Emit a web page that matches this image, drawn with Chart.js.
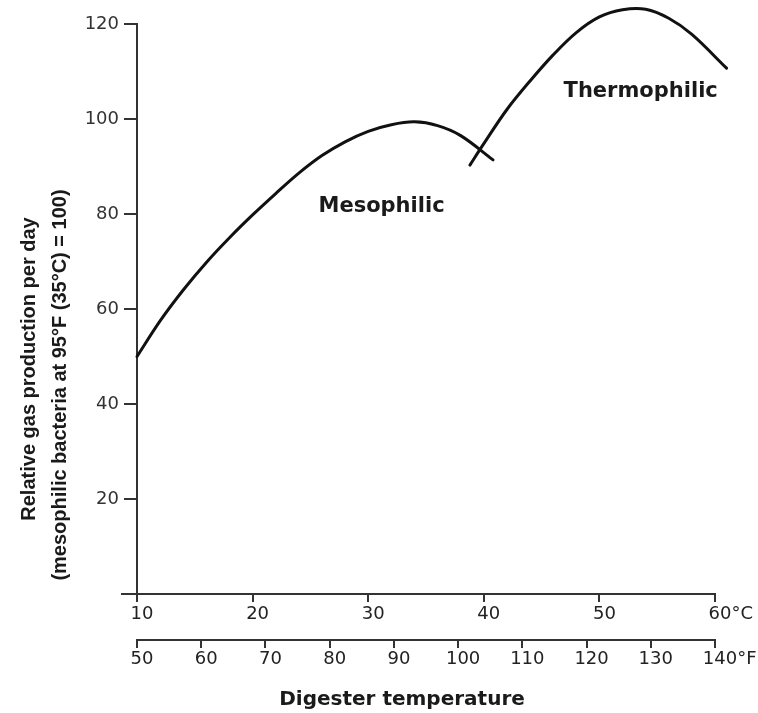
<!DOCTYPE html>
<html>
<head>
<meta charset="utf-8">
<title>Relative gas production vs digester temperature</title>
<script src="https://cdn.jsdelivr.net/npm/chart.js@4/dist/chart.umd.min.js"></script>
<style>
  html, body { margin: 0; padding: 0; background: #fff; }
  #wrap { width: 758px; height: 713px; }
</style>
</head>
<body>
<div id="wrap"><canvas id="gasChart"></canvas></div>
<script>
// Mesophilic curve - temperature (°C) and relative gas production
const mesoTemp = [10, 12, 14, 16, 18, 20, 22, 24, 26, 28, 30, 32, 34, 36, 38, 40.8];
const mesoGas = [50, 57.5, 64, 69.8, 75, 79.8, 84.3, 88.6, 92.3, 95.2, 97.4, 98.8, 99.4, 98.6, 96.5, 91.4];

// Thermophilic curve
const thermoTemp = [38.8, 40, 42, 44, 46, 48, 50, 52, 54, 56, 58, 61];
const thermoGas = [90.3, 94.8, 102, 108, 113.5, 118.2, 121.5, 123, 123.1, 121.2, 117.8, 110.7];

// Tick values
const celsiusTicks = [10, 20, 30, 40, 50, 60];
const fahrenheitTicks = [50, 60, 70, 80, 90, 100, 110, 120, 130, 140];
const gasTicks = [20, 40, 60, 80, 100, 120];

const textColor = '#222';
const axisColor = '#333';
const tickFont = { family: '"DejaVu Sans"', size: 18 };

const toPoints = (xs, ys) => xs.map((x, i) => ({ x: x, y: ys[i] }));
const fixedTicks = values => scale => { scale.ticks = values.map(v => ({ value: v })); };
// set the range after the data limits, so points past the axis end are still drawn
const fixedRange = (lo, hi) => scale => { scale.min = lo; scale.max = hi; };

// titles, curve names and units drawn on top
const extras = {
    id: 'extras',
    afterDraw(chart) {
        const { ctx, chartArea: area, scales } = chart;
        const x = scales.x, x2 = scales.x2, y = scales.y;
        ctx.save();

        // short stub of the °C axis left of the y axis
        ctx.strokeStyle = axisColor;
        ctx.lineWidth = 2;
        ctx.beginPath();
        ctx.moveTo(area.left - 16, area.bottom);
        ctx.lineTo(area.left, area.bottom);
        ctx.stroke();

        // units after the last tick labels
        ctx.fillStyle = textColor;
        ctx.font = '18px "DejaVu Sans"';
        ctx.textAlign = 'left';
        ctx.textBaseline = 'middle';
        const unit = (scale, value, text, pad) => {
            const px = scale.getPixelForValue(value) + 5 + ctx.measureText(String(value)).width / 2;
            const py = scale.top + 8 + pad + 18 * 1.2 / 2;
            ctx.fillText(text, px, py);
        };
        unit(x, 60, '°C', 2);
        unit(x2, 140, '°F', 1);

        // curve names
        ctx.fillStyle = '#1a1a1a';
        ctx.font = 'bold 21px "DejaVu Sans"';
        ctx.textBaseline = 'alphabetic';
        ctx.fillText('Mesophilic', x.getPixelForValue(25.7), y.getPixelForValue(80.4));
        ctx.fillText('Thermophilic', x.getPixelForValue(46.9), y.getPixelForValue(104.6));

        // x title
        ctx.font = 'bold 20px "DejaVu Sans"';
        ctx.textAlign = 'center';
        ctx.textBaseline = 'middle';
        ctx.fillText('Digester temperature', 402, 700);

        // y title, two rotated lines
        ctx.font = 'bold 20px "Liberation Sans"';
        ctx.save();
        ctx.translate(29, 369);
        ctx.rotate(-Math.PI / 2);
        ctx.fillText('Relative gas production per day', 0, 0);
        ctx.restore();
        ctx.save();
        ctx.translate(60, 385);
        ctx.rotate(-Math.PI / 2);
        ctx.fillText('(mesophilic bacteria at 95°F (35°C) = 100)', 0, 0);
        ctx.restore();

        ctx.restore();
    }
};

const ctx = document.getElementById('gasChart').getContext('2d');
const chart = new Chart(ctx, {
    type: 'line',
    data: {
        datasets: [{
            label: 'Mesophilic',
            data: toPoints(mesoTemp, mesoGas)
        }, {
            label: 'Thermophilic',
            data: toPoints(thermoTemp, thermoGas)
        }]
    },
    options: {
        responsive: true,
        maintainAspectRatio: false,
        animation: false,
        layout: { padding: { top: 24, right: 43, bottom: 38, left: 0 } },
        elements: {
            point: { radius: 0 },
            line: {
                borderColor: '#111',
                borderWidth: 3,
                tension: 0.35,
                borderCapStyle: 'round',
                borderJoinStyle: 'round'
            }
        },
        datasets: { line: { clip: false } },
        plugins: {
            legend: { display: false },
            tooltip: { enabled: false }
        },
        scales: {
            x: {
                type: 'linear',
                position: 'bottom',
                afterDataLimits: fixedRange(10, 60),
                afterBuildTicks: fixedTicks(celsiusTicks),
                afterFit: s => { s.height = 46; },
                border: { display: true, color: axisColor, width: 2 },
                grid: { drawOnChartArea: false, tickLength: 8, color: axisColor, lineWidth: 2 },
                ticks: {
                    color: textColor, font: tickFont, padding: 2, labelOffset: 5,
                    autoSkip: false, maxRotation: 0, callback: v => String(v)
                }
            },
            x2: {
                type: 'linear',
                position: 'bottom',
                weight: 1,
                min: 50,
                max: 140,
                afterBuildTicks: fixedTicks(fahrenheitTicks),
                afterFit: s => { s.height = 35; },
                border: { display: true, color: axisColor, width: 2 },
                grid: { drawOnChartArea: false, tickLength: 8, color: axisColor, lineWidth: 2 },
                ticks: {
                    color: textColor, font: tickFont, padding: 1, labelOffset: 5,
                    autoSkip: false, maxRotation: 0, callback: v => String(v)
                }
            },
            y: {
                type: 'linear',
                afterDataLimits: fixedRange(0, 120),
                afterBuildTicks: fixedTicks(gasTicks),
                afterFit: s => { s.width = 137; },
                border: { display: true, color: axisColor, width: 2 },
                grid: { drawOnChartArea: false, tickLength: 13, color: axisColor, lineWidth: 2 },
                ticks: { color: '#333', font: tickFont, padding: 5, callback: v => String(v) }
            }
        }
    },
    plugins: [extras]
});
</script>
</body>
</html>
